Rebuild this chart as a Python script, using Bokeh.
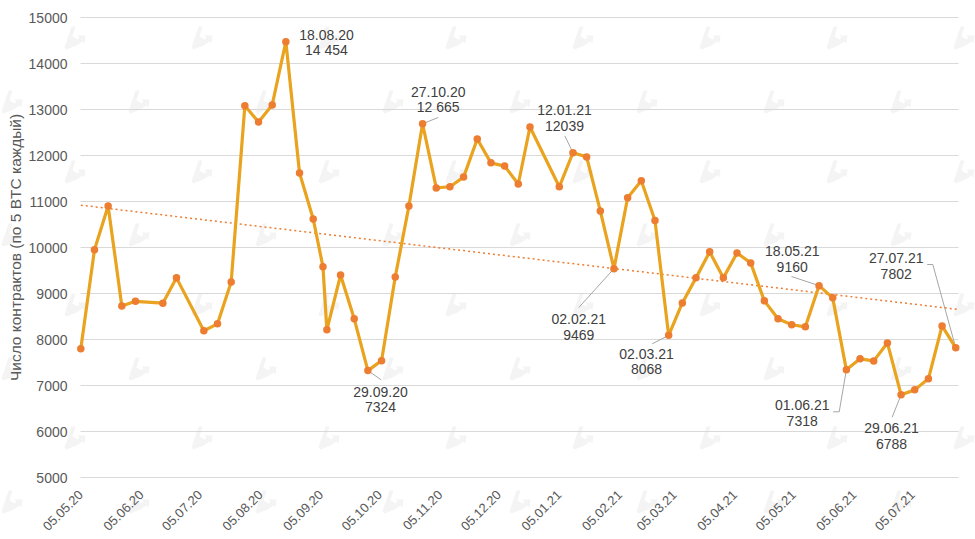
from math import pi

import pandas as pd
from bokeh.core.properties import value
from bokeh.embed import file_html
from bokeh.models import FixedTicker, PolyAnnotation
from bokeh.plotting import figure
from bokeh.resources import INLINE

dates = [
    "05.05.20", "12.05.20", "19.05.20", "26.05.20", "02.06.20", "16.06.20", "23.06.20", "07.07.20",
    "14.07.20", "21.07.20", "28.07.20", "04.08.20", "11.08.20", "18.08.20", "25.08.20", "01.09.20",
    "06.09.20", "08.09.20", "15.09.20", "22.09.20", "29.09.20", "06.10.20", "13.10.20", "20.10.20",
    "27.10.20", "03.11.20", "10.11.20", "17.11.20", "24.11.20", "01.12.20", "08.12.20", "15.12.20",
    "21.12.20", "05.01.21", "12.01.21", "19.01.21", "26.01.21", "02.02.21", "09.02.21", "16.02.21",
    "23.02.21", "02.03.21", "09.03.21", "16.03.21", "23.03.21", "30.03.21", "06.04.21", "13.04.21",
    "20.04.21", "27.04.21", "04.05.21", "11.05.21", "18.05.21", "25.05.21", "01.06.21", "08.06.21",
    "15.06.21", "22.06.21", "29.06.21", "06.07.21", "13.07.21", "20.07.21", "27.07.21",
]
contracts = [
    7800, 9950, 10900, 8730, 8830, 8790, 9340, 8190,
    8340, 9250, 13080, 12730, 13100, 14475, 11620, 10620,
    9580, 8210, 9400, 8450, 7324, 7540, 9360, 10900,
    12690, 11295, 11320, 11530, 12360, 11840, 11770, 11380,
    12620, 11320, 12060, 11970, 10795, 9540, 11080, 11450,
    10585, 8090, 8795, 9340, 9905, 9340, 9880, 9665,
    8840, 8450, 8320, 8275, 9170, 8905, 7340, 7580,
    7535, 7925, 6800, 6905, 7145, 8295, 7820,
]
trend_dates = ["05.05.20", "28.07.21"]
trend_values = [10920, 8655]

x_tick_labels = [
    "05.05.20", "05.06.20", "05.07.20", "05.08.20", "05.09.20", "05.10.20", "05.11.20", "05.12.20",
    "05.01.21", "05.02.21", "05.03.21", "05.04.21", "05.05.21", "05.06.21", "05.07.21",
]
y_ticks = [5000, 6000, 7000, 8000, 9000, 10000, 11000, 12000, 13000, 14000, 15000]

callout_dates = [
    "18.08.20", "29.09.20", "27.10.20", "12.01.21", "02.02.21",
    "02.03.21", "18.05.21", "01.06.21", "29.06.21", "27.07.21",
]
callout_values = ["14 454", "7324", "12 665", "12039", "9469", "8068", "9160", "7318", "6788", "7802"]

# layout, in page pixels
callout_label_px = [
    (326, 42), (380, 399), (437.7, 99), (564, 117.5), (578.3, 326.3),
    (646, 361), (791.7, 258.3), (801.7, 412.3), (891, 435.3), (895.7, 265.3),
]
callout_leader_px = [
    [], [(380.7, 379.3)], [(437.7, 117)], [(564.3, 135.3)], [(578.3, 307)],
    [(651.7, 343.3)], [(791, 276)], [(832.7, 411.3), (838.7, 411.3)], [(891.7, 416.7)],
    [(926.7, 264), (932.3, 264)],
]
logo_rows_y = [38, 102, 172, 235, 305, 369, 438, 502]
logo_outline = [
    (-3, -12), (1, -12), (-2, -2), (3, 1), (5, -1), (3, -3), (11, -3), (10, 5),
    (8, 3), (2, 7), (-8, 11), (-10, 9),
]

FONT = "Liberation Sans"
WIDTH, HEIGHT = 975, 539
LEFT, TOP, BOTTOM = 76, 17, 477


def to_ms(label):
    return int(pd.to_datetime(label, format="%d.%m.%y").timestamp() * 1000)


MS_PER_DAY = 86400000
PX_PER_DAY = 1.953
origin = to_ms(dates[0])


def x_px(px):
    return origin + (px - 80.3) / PX_PER_DAY * MS_PER_DAY


def y_px(px):
    return 15000 - (px - TOP) / 0.046


x = [to_ms(d) for d in dates]

# the frame fills the whole canvas so the watermark can reach the edges; axes are pinned inside it
p = figure(x_axis_type="datetime", width=WIDTH, height=HEIGHT, output_backend="svg", toolbar_location=None,
           x_range=(x_px(0), x_px(WIDTH)), y_range=(y_px(HEIGHT), y_px(0)), margin=(0, 0, 0, 0),
           min_border_left=0, min_border_right=0, min_border_top=0, min_border_bottom=0)
p.outline_line_color = None
p.xgrid.grid_line_color = None
p.ygrid.grid_line_color = "#D9D9D9"
p.ygrid.grid_line_width = 1
p.ygrid.cross_bounds = (origin, x_px(957.7))

for i, row_y in enumerate(logo_rows_y):
    first = 74 if i % 2 == 0 else 11
    for k in range(8):
        cx = first + 127 * k
        p.add_layout(PolyAnnotation(
            xs=[cx + dx for dx, dy in logo_outline],
            ys=[row_y + dy for dx, dy in logo_outline],
            xs_units="canvas", ys_units="canvas",
            fill_color="#F4F4F4", fill_alpha=1, line_color=None,
            level="image",
        ))

p.xaxis.fixed_location = 5000
p.yaxis.fixed_location = x_px(LEFT)
p.yaxis.bounds = (5000, 15000)
p.xaxis.ticker = FixedTicker(ticks=[to_ms(t) for t in x_tick_labels])
p.xaxis.major_label_overrides = {to_ms(t): t for t in x_tick_labels}
p.xaxis.major_label_orientation = pi / 4
p.yaxis.ticker = FixedTicker(ticks=y_ticks)
p.yaxis.major_label_overrides = {v: str(v) for v in y_ticks}
for ax in (p.xaxis, p.yaxis):
    ax.axis_line_color = None
    ax.major_tick_line_color = None
    ax.minor_tick_line_color = None
    ax.major_label_text_font = FONT
    ax.major_label_text_color = "#595959"
p.yaxis.major_label_text_font_size = "14px"
p.xaxis.major_label_text_font_size = "13px"
p.yaxis.major_label_standoff = 3
p.xaxis.major_label_standoff = 9
p.yaxis.axis_label = "Число контрактов (по 5 BTC каждый)"
p.yaxis.axis_label_text_font = FONT
p.yaxis.axis_label_text_font_style = "normal"
p.yaxis.axis_label_text_font_size = "15.5px"
p.yaxis.axis_label_text_color = "#595959"
p.yaxis.axis_label_standoff = 2

# leaders
point_by_date = dict(zip(dates, contracts))
leader_xs = []
leader_ys = []
for d, leader in zip(callout_dates, callout_leader_px):
    if leader:
        leader_xs.append([x_px(a) for a, b in leader] + [to_ms(d)])
        leader_ys.append([y_px(b) for a, b in leader] + [point_by_date[d]])
p.multi_line(leader_xs, leader_ys, line_color="#A6A6A6", line_width=1)

p.line([to_ms(d) for d in trend_dates], trend_values, line_color="#ED7D31", line_width=1.5,
       line_dash=[2, 3])
p.line(x, contracts, line_color="#E9A31E", line_width=3.2, line_join="round")
p.scatter(x, contracts, size=7.5, fill_color="#ED7D31", line_color="#ED7D31", line_width=0)

for d, v, (cx, cy) in zip(callout_dates, callout_values, callout_label_px):
    p.text([x_px(cx)], [y_px(cy)], text=[d + "\n" + v], text_align="center", text_baseline="middle",
           text_font=value(FONT), text_font_size="14px", text_color="#404040", text_line_height=0.97)

open("out.html", "w").write(file_html(p, INLINE))
